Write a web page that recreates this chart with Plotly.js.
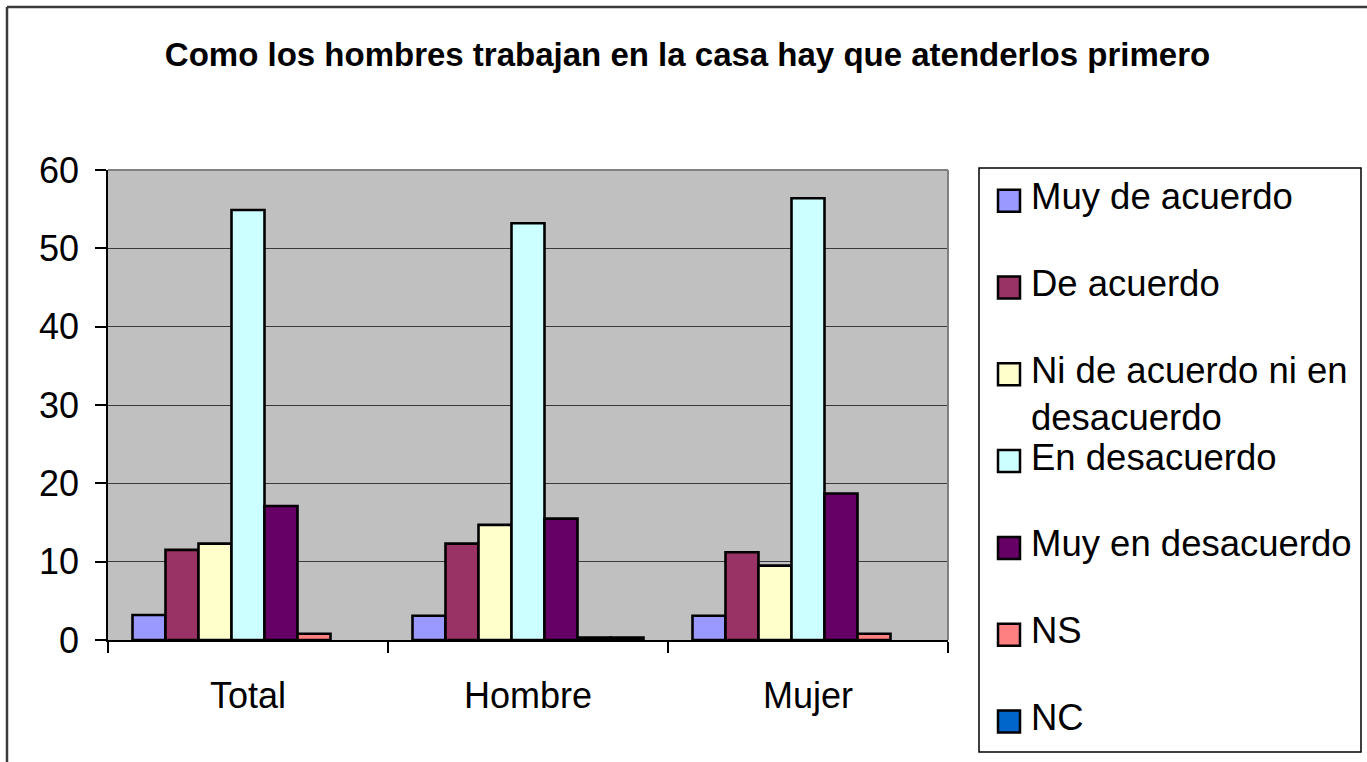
<!DOCTYPE html>
<html><head><meta charset="utf-8">
<script src="https://cdn.plot.ly/plotly-3.0.1.min.js"></script>
<style>html,body{margin:0;padding:0;background:#fff;} #chart{width:1367px;height:762px;}</style>
</head><body><div id="chart"></div>
<script>
// ---- data ----
const categories = ["Total", "Hombre", "Mujer"];
const seriesNames = ["Muy de acuerdo", "De acuerdo", "Ni de acuerdo ni en desacuerdo", "En desacuerdo", "Muy en desacuerdo", "NS", "NC"];
const legendLabels = ["Muy de acuerdo", "De acuerdo", "Ni de acuerdo ni en<br>desacuerdo", "En desacuerdo", "Muy en desacuerdo", "NS", "NC"];
const muyDeAcuerdo    = [3.2, 3.1, 3.1];
const deAcuerdo       = [11.5, 12.3, 11.2];
const niNi            = [12.3, 14.7, 9.5];
const enDesacuerdo    = [54.9, 53.2, 56.4];
const muyEnDesacuerdo = [17.1, 15.5, 18.7];
const nsValues        = [0.8, 0.3, 0.8];
const ncValues        = [0, 0.3, 0];
const yTickValues = [0, 10, 20, 30, 40, 50, 60];
const chartTitle = "Como los hombres trabajan en la casa hay que atenderlos primero";

const seriesValues = [muyDeAcuerdo, deAcuerdo, niNi, enDesacuerdo, muyEnDesacuerdo, nsValues, ncValues];
const seriesColors = ["#9999FF", "#993366", "#FFFFCC", "#CCFFFF", "#660066", "#FF8080", "#0066CC"];

// ---- geometry ----
const W = 1367, H = 762;
const PL = 108, PR = 948, PT = 170, PB = 640;
const px = v => (v - PL) / (PR - PL);
const py = v => (PB - v) / (PB - PT);
const FONT = "Liberation Sans, Arial, Helvetica, sans-serif";

const traces = seriesNames.map((name, i) => ({
  type: "bar",
  name: name,
  x: categories,
  y: seriesValues[i],
  marker: {
    color: seriesColors[i],
    line: { color: "#000000", width: seriesValues[i].map(v => (v > 0 ? 2.6 : 0)) }
  },
  showlegend: false,
  hoverinfo: "x+y+name"
}));

const shapes = [];
const annotations = [];

// outer chart border (left and top visible)
shapes.push({ type: "line", xref: "paper", yref: "paper", x0: px(7), x1: px(7), y0: py(7), y1: py(H + 5), line: { color: "#3a3a3a", width: 2.5 } });
shapes.push({ type: "line", xref: "paper", yref: "paper", x0: px(7), x1: px(W + 5), y0: py(7), y1: py(7), line: { color: "#3a3a3a", width: 2.5 } });
// plot area top and right border (gray)
shapes.push({ type: "line", xref: "paper", yref: "paper", x0: 0, x1: 1, y0: 1, y1: 1, line: { color: "#808080", width: 2 } });
shapes.push({ type: "line", xref: "paper", yref: "paper", x0: 1, x1: 1, y0: 0, y1: 1, line: { color: "#808080", width: 2 } });

// legend box
shapes.push({ type: "rect", xref: "paper", yref: "paper", x0: px(979), x1: px(1361), y0: py(168), y1: py(752), line: { color: "#000000", width: 1.5 }, fillcolor: "rgba(0,0,0,0)" });

const legendTop = 196.7, legendStep = 86.8;
legendLabels.forEach((lab, i) => {
  const yc = legendTop + legendStep * i;
  shapes.push({ type: "rect", xref: "paper", yref: "paper",
    x0: px(998), x1: px(1020), y0: py(yc + 4 - 11), y1: py(yc + 4 + 11),
    fillcolor: seriesColors[i], line: { color: "#000000", width: 2.5 } });
  const multi = lab.indexOf("<br>") >= 0;
  annotations.push({ xref: "paper", yref: "paper", x: px(1029), y: py(multi ? yc + 23.4 : yc),
    xanchor: "left", yanchor: "middle", showarrow: false, align: "left",
    text: lab, font: { family: FONT, size: 36.5, color: "#000000" } });
});

const layout = {
  width: W, height: H,
  margin: { l: PL, r: W - PR, t: PT, b: H - PB, pad: 0 },
  paper_bgcolor: "#ffffff",
  plot_bgcolor: "#C0C0C0",
  font: { family: FONT, color: "#000000" },
  title: { text: "<b>" + chartTitle + "</b>", font: { family: FONT, size: 33, color: "#000000" },
    x: 687.5 / W, xref: "container", xanchor: "center", y: 1 - 54 / H, yref: "container", yanchor: "middle" },
  barmode: "group",
  bargap: 0.175,
  bargroupgap: 0,
  showlegend: false,
  xaxis: {
    type: "category", tickson: "boundaries", ticks: "outside", ticklen: 11, tickwidth: 1.5, tickcolor: "#000000",
    showline: true, linecolor: "#000000", linewidth: 1.5, showgrid: false, zeroline: false,
    tickfont: { family: FONT, size: 36, color: "#000000" }, ticklabelstandoff: 23, fixedrange: true
  },
  yaxis: {
    range: [0, 60], tickvals: yTickValues, ticks: "outside", ticklen: 11, tickwidth: 1.5, tickcolor: "#000000",
    showline: true, linecolor: "#000000", linewidth: 1.5, showgrid: true, gridcolor: "#3a3a3a", gridwidth: 1,
    zeroline: false, tickfont: { family: FONT, size: 36, color: "#000000" }, ticklabelstandoff: 9, fixedrange: true
  },
  shapes: shapes,
  annotations: annotations
};

Plotly.newPlot("chart", traces, layout, { displayModeBar: false, staticPlot: false });
</script>
</body></html>
